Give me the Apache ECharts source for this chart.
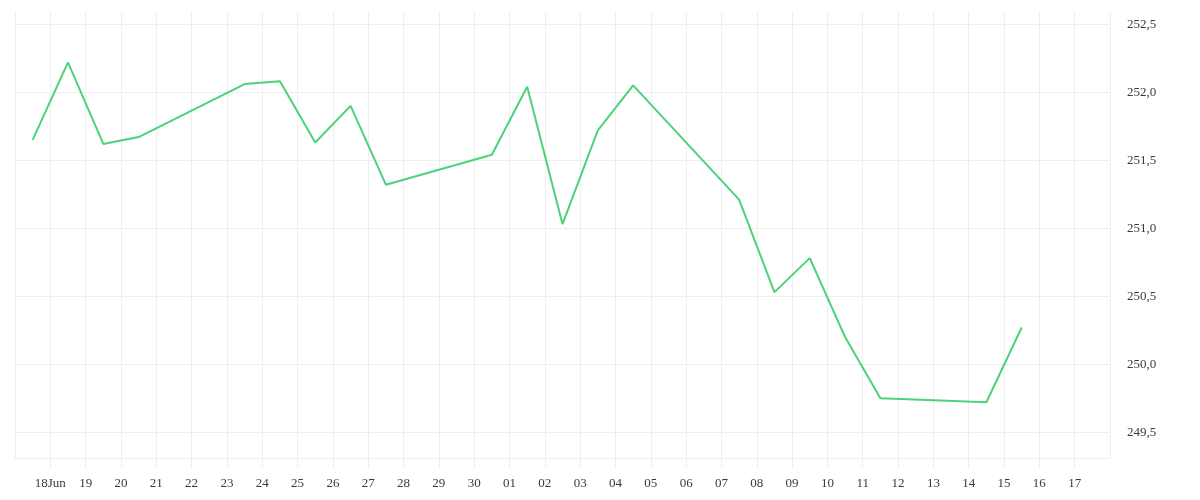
<!DOCTYPE html>
<html>
<head>
<meta charset="utf-8">
<script src="https://cdn.jsdelivr.net/npm/echarts@6/dist/echarts.min.js"></script>
<style>
  html, body { margin: 0; padding: 0; background: #fff; }
  #main { width: 1200px; height: 500px; }
</style>
</head>
<body>
<div id="main"></div>
<script>
var DAY = 86400000;

// trading days (points sit at midday of each date)
var dates = [
    '2025-06-17', '2025-06-18', '2025-06-19', '2025-06-20',
    '2025-06-23', '2025-06-24', '2025-06-25', '2025-06-26', '2025-06-27',
    '2025-06-30', '2025-07-01', '2025-07-02', '2025-07-03', '2025-07-04',
    '2025-07-07', '2025-07-08', '2025-07-09', '2025-07-10', '2025-07-11',
    '2025-07-14', '2025-07-15'
];
var prices = [
    251.65, 252.22, 251.62, 251.67,
    252.06, 252.08, 251.63, 251.90, 251.32,
    251.54, 252.04, 251.03, 251.72, 252.05,
    251.21, 250.53, 250.78, 250.20, 249.75,
    249.72, 250.27
];
var monthNames = ['Jan', 'Feb', 'Mar', 'Apr', 'May', 'Jun', 'Jul', 'Aug', 'Sep', 'Oct', 'Nov', 'Dec'];

var xMin = Date.UTC(2025, 5, 17);
var xMax = Date.UTC(2025, 6, 18);
var yMin = 249.31;
var yMax = 252.59;

var seriesData = dates.map(function (d, i) {
    return [Date.parse(d + 'T12:00:00Z'), prices[i]];
});

var gridColor = '#eeeeee';
var labelFont = {
    color: '#3a3a3a',
    fontFamily: 'Liberation Serif',
    fontSize: 13
};

var myChart = echarts.init(document.getElementById('main'));

var option = {
    animation: false,
    grid: {
        left: 15,
        right: 90,
        top: 12,
        bottom: 42
    },
    xAxis: {
        type: 'value',
        min: xMin,
        max: xMax,
        interval: DAY,
        axisLine: { show: true, lineStyle: { color: gridColor } },
        axisTick: { show: true, length: 10, lineStyle: { color: gridColor } },
        splitLine: { show: true, lineStyle: { color: gridColor } },
        axisLabel: Object.assign({
            margin: 19,
            showMinLabel: false,
            showMaxLabel: false,
            formatter: function (v) {
                var d = new Date(v);
                var day = ('0' + d.getUTCDate()).slice(-2);
                if (v === xMin + DAY) {
                    return day + monthNames[d.getUTCMonth()];
                }
                return day;
            }
        }, labelFont)
    },
    yAxis: {
        type: 'value',
        position: 'right',
        min: yMin,
        max: yMax,
        axisLine: { show: false },
        axisTick: { show: false },
        splitLine: {
            show: true,
            showMinLine: false,
            showMaxLine: false,
            lineStyle: { color: gridColor }
        },
        axisLabel: Object.assign({
            margin: 17,
            padding: [6, 0, 0, 0],
            showMinLabel: false,
            showMaxLabel: false,
            formatter: function (v) {
                return v.toFixed(1).replace('.', ',');
            }
        }, labelFont)
    },
    series: [{
        type: 'line',
        data: seriesData,
        showSymbol: false,
        symbol: 'none',
        lineStyle: { color: '#4cd27b', width: 2 },
        itemStyle: { color: '#4cd27b' }
    }]
};

myChart.setOption(option);

window.onresize = function () {
    myChart.resize();
};
</script>
</body>
</html>
